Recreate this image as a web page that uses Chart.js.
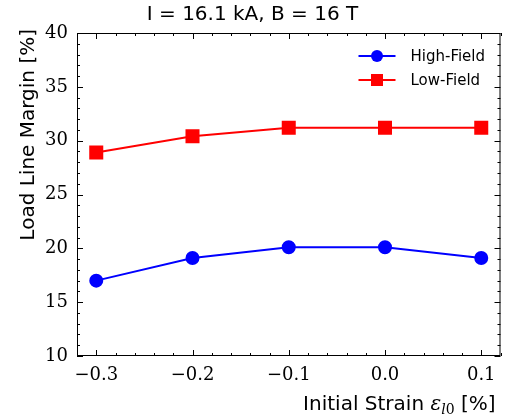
<!DOCTYPE html>
<html>
<head>
<meta charset="utf-8">
<script src="https://cdn.jsdelivr.net/npm/chart.js@4.4.1/dist/chart.umd.min.js"></script>
<style>
  html, body { margin: 0; padding: 0; background: #fff; }
  #wrap { width: 511px; height: 420px; }
</style>
</head>
<body>
<div id="wrap"><canvas id="marginChart"></canvas></div>
<script>
// Values
const strain = [-0.3, -0.2, -0.1, 0.0, 0.1];
const highField = [17.0, 19.1, 20.1, 20.1, 19.1];
const lowField = [28.9, 30.4, 31.2, 31.2, 31.2];
const xTickStep = 0.1, xMinorStep = 0.02;
const yTickStep = 5, yMinorStep = 1;
const yLabel = 'Load Line Margin [%]';

const toPoints = (ys) => ys.map((y, i) => ({ x: strain[i], y: y }));
const fmtMinus = (s) => s.replace('-', '\u2212');

// Inward ticks on all four sides, frame, legend and axis labels
const frameTicks = {
    id: 'frameTicks',
    afterDatasetsDraw(chart) {
        const { ctx, chartArea: a, scales } = chart;
        const xs = scales.x, ys = scales.y;
        ctx.save();
        ctx.strokeStyle = '#000';
        ctx.lineWidth = 1;
        ctx.strokeRect(a.left + 0.5, a.top + 0.5, a.right - a.left - 1, a.bottom - a.top - 1);
        ctx.beginPath();
        const x0 = Math.ceil(xs.min / xMinorStep - 1e-6) * xMinorStep;
        for (let v = x0; v <= xs.max + 1e-9; v += xMinorStep) {
            const px = Math.round(xs.getPixelForValue(v)) + 0.5;
            const major = Math.abs(v / xTickStep - Math.round(v / xTickStep)) < 1e-6;
            const len = major ? 6 : 3;
            ctx.moveTo(px, a.bottom); ctx.lineTo(px, a.bottom - len);
            ctx.moveTo(px, a.top); ctx.lineTo(px, a.top + len);
        }
        for (let v = ys.min; v <= ys.max + 1e-9; v += yMinorStep) {
            const py = Math.round(ys.getPixelForValue(v)) + 0.5;
            const major = Math.abs(v % yTickStep) < 1e-6;
            const len = major ? 6 : 3;
            ctx.moveTo(a.left, py); ctx.lineTo(a.left + len, py);
            ctx.moveTo(a.right, py); ctx.lineTo(a.right - len, py);
        }
        ctx.stroke();

        // legend, upper right inside the axes
        chart.data.datasets.forEach((ds, i) => {
            const y = a.top + 23 + i * 24;
            const x1 = a.right - 142, x2 = a.right - 105, xm = (x1 + x2) / 2;
            ctx.strokeStyle = ds.borderColor;
            ctx.fillStyle = ds.backgroundColor;
            ctx.lineWidth = ds.borderWidth;
            ctx.beginPath(); ctx.moveTo(x1, y); ctx.lineTo(x2, y); ctx.stroke();
            if (ds.pointStyle === 'rect') {
                ctx.fillRect(xm - 6, y - 6, 12, 12);
            } else {
                ctx.beginPath(); ctx.arc(xm, y, 6, 0, Math.PI * 2); ctx.fill();
            }
            ctx.fillStyle = '#000';
            ctx.font = '15px "DejaVu Sans"';
            ctx.textBaseline = 'middle';
            ctx.textAlign = 'left';
            ctx.fillText(ds.label, a.right - 90, y + 1);
        });

        // y axis label, rotated, top aligned
        ctx.fillStyle = '#000';
        ctx.textBaseline = 'alphabetic';
        ctx.save();
        ctx.translate(34, a.top - 4);
        ctx.rotate(-Math.PI / 2);
        ctx.textAlign = 'right';
        ctx.font = '20px "DejaVu Sans"';
        ctx.fillText(yLabel, 0, 0);
        ctx.restore();

        // x axis label with subscript, right aligned
        const parts = [
            { t: 'Initial Strain ', f: '20px "DejaVu Sans"', dy: 0 },
            { t: '\u03b5', f: 'italic 20px "DejaVu Serif"', dy: 0 },
            { t: 'l', f: 'italic 14px "DejaVu Serif"', dy: 4 },
            { t: '0', f: '14px "DejaVu Serif"', dy: 4 },
            { t: ' [%]', f: '20px "DejaVu Sans"', dy: 0 }
        ];
        let total = 0;
        parts.forEach(p => { ctx.font = p.f; p.w = ctx.measureText(p.t).width; total += p.w; });
        let cx = a.right - 5 - total;
        ctx.textAlign = 'left';
        parts.forEach(p => { ctx.font = p.f; ctx.fillText(p.t, cx, 410 + p.dy); cx += p.w; });
        ctx.restore();
    }
};

const ctx = document.getElementById('marginChart').getContext('2d');

const marginChart = new Chart(ctx, {
    type: 'line',
    data: {
        datasets: [{
            label: 'High-Field',
            data: toPoints(highField),
            borderColor: '#0000ff',
            backgroundColor: '#0000ff',
            borderWidth: 2,
            pointStyle: 'circle',
            pointRadius: 6,
            pointHoverRadius: 6
        }, {
            label: 'Low-Field',
            data: toPoints(lowField),
            borderColor: '#ff0000',
            backgroundColor: '#ff0000',
            borderWidth: 2,
            pointStyle: 'rect',
            pointRadius: 8.5,
            pointHoverRadius: 8.5
        }]
    },
    options: {
        responsive: true,
        maintainAspectRatio: false,
        animation: false,
        layout: { padding: { right: 6 } },
        scales: {
            x: {
                type: 'linear',
                min: -0.32,
                max: 0.12,
                afterFit: (s) => { s.height = 64; },
                grid: { display: false, drawTicks: false },
                border: { display: false },
                ticks: {
                    stepSize: xTickStep,
                    includeBounds: false,
                    padding: 9,
                    color: '#000',
                    font: { family: 'DejaVu Serif', size: 18 },
                    callback: (v) => fmtMinus(Number(v).toFixed(1))
                }
            },
            y: {
                min: 10,
                max: 40,
                afterFit: (s) => { s.width = 77; },
                grid: { display: false, drawTicks: false },
                border: { display: false },
                ticks: {
                    stepSize: yTickStep,
                    padding: 9,
                    color: '#000',
                    font: { family: 'DejaVu Serif', size: 18 },
                    callback: (v) => String(v)
                }
            }
        },
        plugins: {
            legend: { display: false },
            tooltip: { enabled: false },
            title: {
                display: true,
                text: 'I = 16.1 kA, B = 16 T',
                color: '#000',
                font: { family: 'DejaVu Sans', size: 20, weight: 'normal' },
                padding: { top: 3, bottom: 6 }
            }
        }
    },
    plugins: [frameTicks]
});
</script>
</body>
</html>
